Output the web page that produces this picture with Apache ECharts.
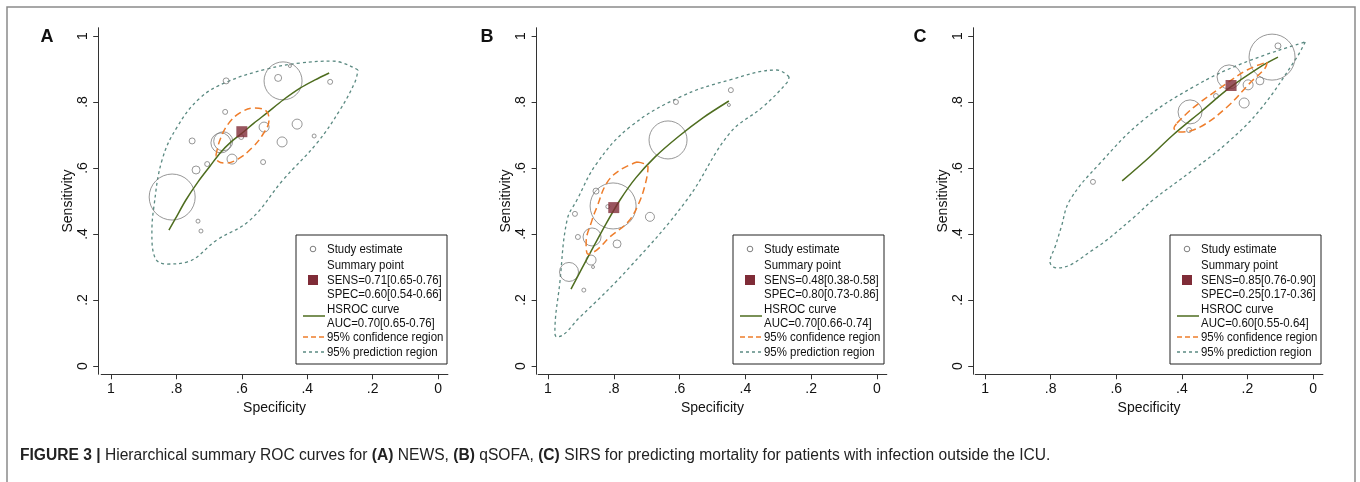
<!DOCTYPE html>
<html>
<head>
<meta charset="utf-8">
<script src="https://cdn.jsdelivr.net/npm/echarts@6/dist/echarts.min.js"></script>
<style>
html,body{margin:0;padding:0;background:#fff;}
#chart{width:1360px;height:482px;}
</style>
</head>
<body>
<div id="chart"></div>
<script>
// ---------- DATA ----------
const tickValues = [0, 0.2, 0.4, 0.6, 0.8, 1];
const tickLabels = ['0', '.2', '.4', '.6', '.8', '1'];
const panelLetters = ['A', 'B', 'C'];
const xTitle = 'Specificity';
const yTitle = 'Sensitivity';

// study estimates: [specificity, sensitivity, weight]
const studiesA = [
  [0.648,0.864,3],[0.474,0.864,19],[0.489,0.873,3.5],[0.453,0.909,1.5],[0.330,0.861,2.5],
  [0.651,0.770,2.5],[0.532,0.724,5],[0.431,0.733,5],[0.379,0.697,2],[0.664,0.676,10],
  [0.657,0.681,9.5],[0.602,0.694,2.5],[0.752,0.682,3],[0.477,0.679,5],[0.630,0.627,5],
  [0.535,0.618,2.5],[0.706,0.612,2.5],[0.740,0.594,4],[0.813,0.512,23],[0.734,0.439,2],
  [0.725,0.409,2]
];
const studiesB = [
  [0.444,0.836,2.5],[0.450,0.791,1.5],[0.611,0.800,2.5],[0.635,0.685,19],[0.802,0.485,23],
  [0.818,0.483,2],[0.854,0.530,3],[0.918,0.461,2.5],[0.690,0.452,4.5],[0.909,0.391,2.5],
  [0.866,0.391,9],[0.790,0.370,4],[0.869,0.321,5],[0.863,0.300,1.5],[0.936,0.285,9.5],
  [0.891,0.230,2]
];
const studiesC = [
  [0.125,0.936,23],[0.107,0.970,3],[0.162,0.864,4],[0.198,0.852,5],[0.210,0.797,5],
  [0.256,0.876,12],[0.296,0.818,2.5],[0.375,0.770,12],[0.378,0.715,2.5],[0.671,0.558,2.5]
];

// summary points [spec, sens]
const summaryA = [0.60, 0.71];
const summaryB = [0.80, 0.48];
const summaryC = [0.25, 0.85];

// HSROC curves [spec, sens]
const hsrocA = [[0.823,0.412],[0.804,0.445],[0.771,0.503],[0.734,0.558],[0.697,0.606],[0.667,0.645],[0.633,0.679],[0.599,0.706],[0.563,0.736],[0.523,0.767],[0.474,0.806],[0.422,0.842],[0.376,0.867],[0.333,0.888]];
const hsrocB = [[0.930,0.233],[0.872,0.342],[0.824,0.430],[0.781,0.503],[0.733,0.570],[0.675,0.633],[0.605,0.694],[0.529,0.752],[0.450,0.803]];
const hsrocC = [[0.582,0.561],[0.500,0.632],[0.427,0.700],[0.340,0.772],[0.256,0.842],[0.162,0.906],[0.107,0.936]];

// 95% confidence regions [spec, sens]
const confA = [[0.679,0.639],[0.667,0.685],[0.642,0.733],[0.606,0.767],[0.560,0.782],[0.526,0.773],[0.517,0.745],[0.535,0.703],[0.569,0.661],[0.612,0.627],[0.648,0.615],[0.673,0.621],[0.679,0.639]];
const confB = [[0.729,0.618],[0.696,0.603],[0.705,0.548],[0.726,0.488],[0.757,0.436],[0.812,0.391],[0.851,0.352],[0.878,0.339],[0.884,0.373],[0.866,0.442],[0.851,0.482],[0.821,0.555],[0.781,0.594],[0.729,0.618]];
const confC = [[0.415,0.736],[0.366,0.782],[0.284,0.842],[0.201,0.897],[0.140,0.921],[0.146,0.903],[0.192,0.858],[0.262,0.785],[0.345,0.724],[0.405,0.709],[0.424,0.721],[0.415,0.736]];

// 95% prediction regions [spec, sens]
const predA = [[0.245,0.897],[0.321,0.924],[0.422,0.918],[0.523,0.900],[0.645,0.861],[0.728,0.812],[0.798,0.724],[0.844,0.624],[0.869,0.482],[0.875,0.403],[0.865,0.327],[0.829,0.309],[0.768,0.315],[0.676,0.382],[0.575,0.442],[0.474,0.564],[0.370,0.676],[0.300,0.776],[0.254,0.861],[0.245,0.897]];
const predB = [[0.267,0.876],[0.304,0.897],[0.447,0.867],[0.599,0.815],[0.751,0.724],[0.851,0.615],[0.912,0.503],[0.942,0.442],[0.964,0.252],[0.979,0.100],[0.973,0.088],[0.903,0.148],[0.751,0.300],[0.578,0.503],[0.447,0.706],[0.347,0.785],[0.274,0.858],[0.267,0.876]];
const predC = [[0.024,0.982],[0.049,0.936],[0.162,0.776],[0.262,0.676],[0.366,0.594],[0.488,0.503],[0.549,0.448],[0.671,0.352],[0.780,0.297],[0.802,0.315],[0.785,0.365],[0.768,0.420],[0.741,0.503],[0.649,0.615],[0.518,0.745],[0.366,0.845],[0.213,0.918],[0.024,0.982]];

// legend texts
const legendStudy = 'Study estimate';
const legendSummary = 'Summary point';
const sensText = ['SENS=0.71[0.65-0.76]', 'SENS=0.48[0.38-0.58]', 'SENS=0.85[0.76-0.90]'];
const specText = ['SPEC=0.60[0.54-0.66]', 'SPEC=0.80[0.73-0.86]', 'SPEC=0.25[0.17-0.36]'];
const legendCurve = 'HSROC curve';
const aucText = ['AUC=0.70[0.65-0.76]', 'AUC=0.70[0.66-0.74]', 'AUC=0.60[0.55-0.64]'];
const legendConf = '95% confidence region';
const legendPred = '95% prediction region';
const captionBold = 'FIGURE 3 |';
const captionRest = ' Hierarchical summary ROC curves for ';
const captionParts = [['(A)', ' NEWS, '], ['(B)', ' qSOFA, '], ['(C)', ' SIRS for predicting mortality for patients with infection outside the ICU.']];

// ---------- CHART ----------
const chart = echarts.init(document.getElementById('chart'));
const FONT = 'Liberation Sans, Arial, sans-serif';
const C_STUDY = '#7d7d7d', C_SUM = '#7f2c37', C_CURVE = '#4e6d1f', C_CONF = '#ee7d2b', C_PRED = '#5b8a82';

const grids = [
  {left: 101.2, top: 27.75, width: 346.7, height: 346.5},
  {left: 538.1, top: 27.75, width: 348.7, height: 346.5},
  {left: 975.2, top: 27.75, width: 347.7, height: 346.5}
];
const yOffsets = [3, 1.5, 2];
const studies = [studiesA, studiesB, studiesC];
const summaries = [summaryA, summaryB, summaryC];
const curves = [hsrocA, hsrocB, hsrocC];
const confs = [confA, confB, confC];
const preds = [predA, predB, predC];
const legendLefts = [296, 733, 1170];
const letterX = [47, 487, 920];

function labelFmt(v) {
  for (let i = 0; i < tickValues.length; i++) if (Math.abs(v - tickValues[i]) < 1e-6) return tickLabels[i];
  return '';
}

const xAxes = [], yAxes = [], series = [];
grids.forEach((g, i) => {
  xAxes.push({
    type: 'value', gridIndex: i, min: -0.03, max: 1.03, inverse: true,
    name: xTitle, nameLocation: 'middle', nameGap: 24,
    nameTextStyle: {fontFamily: FONT, fontSize: 14, color: '#111'},
    axisLine: {show: true, onZero: false, lineStyle: {color: '#333', width: 1}},
    axisTick: {show: true, length: 5, customValues: tickValues, lineStyle: {color: '#333'}},
    axisLabel: {customValues: tickValues, formatter: labelFmt, fontFamily: FONT, fontSize: 14, color: '#111', margin: 8},
    splitLine: {show: false}
  });
  yAxes.push({
    type: 'value', gridIndex: i, min: -0.025, max: 1.025, offset: yOffsets[i],
    name: yTitle, nameLocation: 'middle', nameGap: 23,
    nameTextStyle: {fontFamily: FONT, fontSize: 14, color: '#111'},
    axisLine: {show: true, onZero: false, lineStyle: {color: '#333', width: 1}},
    axisTick: {show: true, length: 5, customValues: tickValues, lineStyle: {color: '#333'}},
    axisLabel: {customValues: tickValues, formatter: labelFmt, rotate: 90, fontFamily: FONT, fontSize: 14, color: '#111', margin: 8},
    splitLine: {show: false}
  });
  series.push({
    type: 'line', xAxisIndex: i, yAxisIndex: i, data: preds[i], smooth: 0.4, showSymbol: false, silent: true,
    lineStyle: {color: C_PRED, width: 1.3, type: [3, 3]}, z: 2
  });
  series.push({
    type: 'scatter', xAxisIndex: i, yAxisIndex: i, data: studies[i], symbol: 'circle',
    symbolSize: d => d[2] * 2,
    itemStyle: {color: 'rgba(0,0,0,0)', borderColor: C_STUDY, borderWidth: 1}, z: 3
  });
  series.push({
    type: 'line', xAxisIndex: i, yAxisIndex: i, data: curves[i], smooth: 0.3, showSymbol: false, silent: true,
    lineStyle: {color: C_CURVE, width: 1.5}, z: 4
  });
  series.push({
    type: 'line', xAxisIndex: i, yAxisIndex: i, data: confs[i], smooth: 0.4, showSymbol: false, silent: true,
    lineStyle: {color: C_CONF, width: 1.5, type: [7, 4]}, z: 5
  });
  series.push({
    type: 'scatter', xAxisIndex: i, yAxisIndex: i, data: [summaries[i]], symbol: 'rect', symbolSize: 11,
    itemStyle: {color: C_SUM}, z: 6
  });
});

// legends + letters as graphic
const graphics = [];
graphics.push({type: 'rect', shape: {x: 7, y: 7, width: 1348, height: 520}, style: {fill: 'none', stroke: '#8a8a8a', lineWidth: 1.5}, silent: true, z: 0});
legendLefts.forEach((L, i) => {
  const T = 235;
  const txt = (s, y) => ({type: 'text', x: L + 31, y: T + y, scaleX: 0.88, style: {text: s, font: '13px ' + FONT, fill: '#111', verticalAlign: 'middle'}, z: 20});
  graphics.push({type: 'rect', shape: {x: L, y: T, width: 151, height: 129}, style: {fill: '#fff', stroke: '#222', lineWidth: 1}, z: 19});
  graphics.push({type: 'circle', shape: {cx: L + 17, cy: T + 14, r: 2.8}, style: {fill: 'none', stroke: C_STUDY, lineWidth: 1}, z: 20});
  graphics.push(txt(legendStudy, 14));
  graphics.push({type: 'rect', shape: {x: L + 12, y: T + 40, width: 10, height: 10}, style: {fill: C_SUM}, z: 20});
  graphics.push(txt(legendSummary, 30));
  graphics.push(txt(sensText[i], 45));
  graphics.push(txt(specText[i], 59));
  graphics.push({type: 'line', shape: {x1: L + 7, y1: T + 81, x2: L + 29, y2: T + 81}, style: {stroke: C_CURVE, lineWidth: 1.5}, z: 20});
  graphics.push(txt(legendCurve, 74));
  graphics.push(txt(aucText[i], 88));
  graphics.push({type: 'line', shape: {x1: L + 7, y1: T + 102, x2: L + 30, y2: T + 102}, style: {stroke: C_CONF, lineWidth: 1.5, lineDash: [5, 3]}, z: 20});
  graphics.push(txt(legendConf, 102));
  graphics.push({type: 'line', shape: {x1: L + 7, y1: T + 117, x2: L + 30, y2: T + 117}, style: {stroke: C_PRED, lineWidth: 1.3, lineDash: [3, 3]}, z: 20});
  graphics.push(txt(legendPred, 117));
  graphics.push({type: 'text', x: letterX[i], y: 37, style: {text: panelLetters[i], font: 'bold 18px ' + FONT, fill: '#111', align: 'center', verticalAlign: 'middle'}, z: 20});
});
// caption
graphics.push({
  type: 'text', x: 20, y: 456,
  style: {
    text: '{b|' + captionBold + '}{r|' + captionRest + '}' + captionParts.map(p => '{b|' + p[0] + '}{r|' + p[1] + '}').join(''),
    verticalAlign: 'middle',
    rich: {
      b: {font: 'bold 15.6px ' + FONT, fill: '#222'},
      r: {font: '15.6px ' + FONT, fill: '#222'}
    }
  }, z: 20
});

chart.setOption({
  animation: false,
  backgroundColor: '#fff',
  grid: grids.map(g => Object.assign({outerBoundsMode: 'none'}, g)),
  xAxis: xAxes,
  yAxis: yAxes,
  series: series,
  graphic: graphics
});
</script>
</body>
</html>
